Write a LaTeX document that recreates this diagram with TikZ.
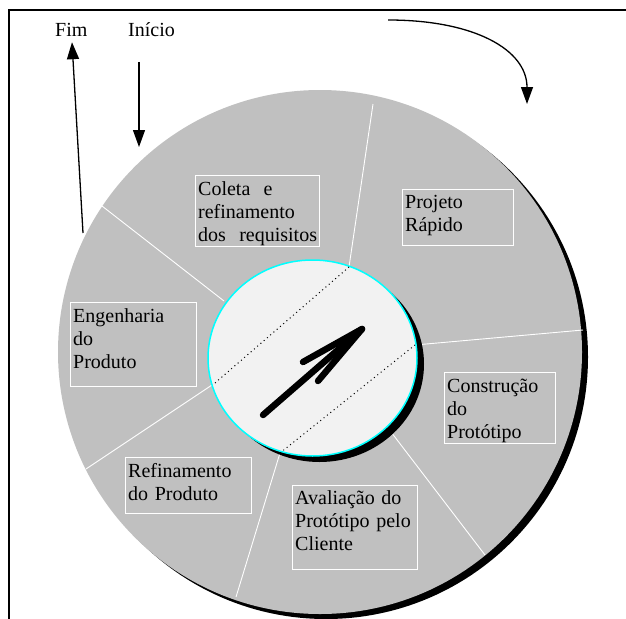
\documentclass[tikz,border=0pt]{standalone}
\usepackage{fontspec}
\setmainfont{Liberation Serif}
\usetikzlibrary{arrows.meta,positioning,calc}
\definecolor{wheelgray}{HTML}{C0C0C0}
\definecolor{hubfill}{HTML}{F2F2F2}
\definecolor{hubline}{HTML}{00FFFF}

\begin{document}
\begin{tikzpicture}[x=1pt, y=-1pt, font=\fontsize{20}{23}\selectfont,
  box/.style={draw=white, line width=0.8pt, anchor=north west, inner sep=0pt},
  txt/.style={align=left, anchor=base west, inner xsep=3pt, inner ysep=0pt, text width=#1},
  seg/.style={white, line width=0.9pt},
  arr/.style={-{Triangle[length=17pt,width=12pt]}, line width=1.3pt}]
\useasboundingbox (0,0) rectangle (626,618);
% wheel and its shadow
\coordinate (wheel) at (320,352);
\coordinate (hub) at (312.5,358);
\fill[black] ($(wheel)+(6,5)$) circle [radius=262pt];
\fill[wheelgray] (wheel) circle [radius=262pt];
% phase borders
\coordinate (p1) at (349,267); \coordinate (o1) at (373,104);
\coordinate (p3) at (415,345); \coordinate (o2) at (583,330);
\coordinate (p5) at (388,428); \coordinate (o3) at (485,555);
\coordinate (p4) at (280,453); \coordinate (o4) at (236,597);
\coordinate (p2) at (215,383); \coordinate (o5) at (86,469);
\coordinate (p6) at (224,301); \coordinate (o6) at (102,206);
\foreach \a/\b in {p1/o1,p3/o2,p5/o3,p4/o4,p2/o5,p6/o6} \draw[seg] (\a) -- (\b);
% phases
\node[box, minimum width=124pt, minimum height=71pt] (colbox) at (195,175) {};
\node[box, minimum width=111pt, minimum height=56pt] (projbox) at (402,189) {};
\node[box, minimum width=111pt, minimum height=71pt] (constbox) at (444,372) {};
\node[box, minimum width=125pt, minimum height=84pt] (avalbox) at (292,485) {};
\node[box, minimum width=126pt, minimum height=56pt] (refbox) at (125,457) {};
\node[box, minimum width=126pt, minimum height=84pt] (engbox) at (70,302) {};
\node[txt=120pt] (coleta) at ($(colbox.north west)+(0,20)$) {Coleta\ \ e\\refinamento\\\mbox{dos\ \ requisitos}};
\node[txt=105pt] (projeto) at ($(projbox.north west)+(0,19.5)$) {Projeto\\R\'apido};
\node[txt=105pt] (construcao) at ($(constbox.north west)+(0,20)$) {Constru\c{c}\~ao\\do\\Prot\'otipo};
\node[txt=119pt] (avaliacao) at ($(avalbox.north west)+(0,19.5)$) {Avalia\c{c}\~ao do\\Prot\'otipo pelo\\Cliente};
\node[txt=120pt] (refinamento) at ($(refbox.north west)+(0,20)$) {Refinamento\\do Produto};
\node[txt=120pt] (engenharia) at ($(engbox.north west)+(0,20)$) {Engenharia\\do\\Produto};
% hub
\fill[black] ($(hub)+(7,6)$) ellipse [x radius=104.5pt, y radius=98pt];
\draw[hubline, fill=hubfill, line width=1.5pt] (hub) ellipse [x radius=104.5pt, y radius=98pt];
\draw[dash pattern=on 1pt off 3.3pt, line width=1pt] (p2) -- (p1);
\draw[dash pattern=on 1pt off 3.3pt, line width=1pt] (p4) -- (p3);
\coordinate (tail) at (263,415);
\coordinate (tip) at (362,329);
\coordinate (barbA) at (303,362);
\coordinate (barbB) at (318,381);
\draw[line width=6.5pt, line cap=round, line join=round] (tail) -- (tip);
\draw[line width=6.5pt, line cap=round, line join=round] (barbA) -- (tip) -- (barbB);
% start / end
\node[anchor=base west, inner sep=3pt] (fim) at (52,37) {Fim};
\node[anchor=base west, inner sep=3pt] (inicio) at (125,37) {In\'icio};
\coordinate (fimfoot) at (83,233);
\coordinate (iniciotop) at (139,62);
\coordinate (iniciotip) at (139,147);
\draw[arr] (fimfoot) -- (fim) [shorten >=2pt];
\draw[arr] (iniciotop) -- (iniciotip);
\coordinate (turnstart) at (388,20);
\coordinate (turnend) at (527,104);
\draw[arr] (turnstart) .. controls (475,20) and (527,50) .. (turnend);
% frame
\draw[line width=1.8pt] (9,630) -- (9,10) -- (640,10);
\end{tikzpicture}
\end{document}
